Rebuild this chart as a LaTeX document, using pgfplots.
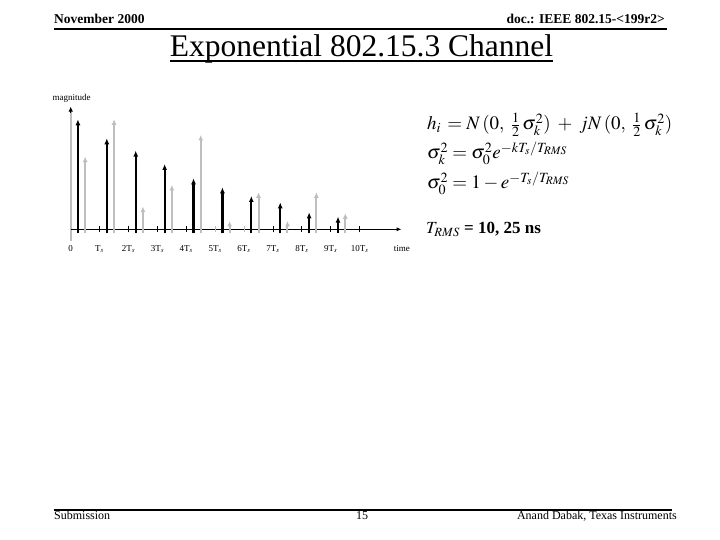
\documentclass[border=0pt]{standalone}
\usepackage{amsmath}
\usepackage{mathptmx}
\usepackage{pgfplots}
\pgfplotsset{compat=1.18}
\usepackage{pgfplotstable}
\usepackage{fontspec}
\setmainfont{Liberation Serif}
\usetikzlibrary{arrows.meta}
\definecolor{lgray}{RGB}{190,190,190}

\pgfplotstableread{
x h
0.25 110
1.25 91
2.25 78.7
3.25 65.3
4.25 51
5.25 42
6.25 33.3
7.25 27
8.25 17
9.25 12.7
}\blackstems

\pgfplotstableread{
x h
0.5 72.7
1.5 110
2.5 22.7
3.5 44.3
4.5 94.3
5.5 8.3
6.5 37
7.5 8.3
8.5 37
9.5 16
}\graystems

\begin{document}
\begin{tikzpicture}[x=1pt,y=1pt]
\path[use as bounding box, fill=white] (0,0) rectangle (720,540);
% header
\node[anchor=base west, inner sep=0, font=\fontsize{13.5}{15}\selectfont\bfseries] at (54,540-23.5) {November 2000};
\node[anchor=base east, inner sep=0, font=\fontsize{13.5}{15}\selectfont\bfseries] at (665,540-24) {doc.: IEEE 802.15-<199r2>};
\draw[line width=1.8pt] (54,540-29) -- (667,540-29);
\node[anchor=base, inner sep=0, font=\fontsize{31.5}{34}\selectfont] at (361.5,540-56.5) {Exponential 802.15.3 Channel};
\draw[line width=1.5pt] (170,540-61) -- (553,540-61);
% footer
\draw[line width=1.8pt] (54,540-510) -- (672,540-510);
\node[anchor=base west, inner sep=0, font=\fontsize{12}{14}\selectfont] at (54,540-520) {Submission};
\node[anchor=base, inner sep=0, font=\fontsize{12}{14}\selectfont] at (362,540-520) {15};
\node[anchor=base east, inner sep=0, font=\fontsize{12}{14}\selectfont] at (677,540-520) {Anand Dabak, Texas Instruments};
% equations
\node[anchor=base west, inner sep=0, font=\fontsize{19}{22}\selectfont] at (427,540-130) {$h_i\, = N\,(0,\;\tfrac{1}{2}\,\sigma_k^2) \;+\; jN\,(0,\;\tfrac{1}{2}\,\sigma_k^2)$};
\node[anchor=base west, inner sep=0, font=\fontsize{19}{22}\selectfont] at (427,540-159) {$\sigma_k^2 = \sigma_0^2 e^{-kT_s/T_{RMS}}$};
\node[anchor=base west, inner sep=0, font=\fontsize{19}{22}\selectfont] at (427,540-189) {$\sigma_0^2 = 1 - e^{-T_s/T_{RMS}}$};
\node[anchor=base west, inner sep=0, font=\fontsize{17}{20}\selectfont] at (426,540-234) {$T_{RMS}$ \textbf{= 10, 25 ns}};

\begin{axis}[
  x=28.9pt, y=1pt,
  hide axis, clip=false,
  xmin=-0.5, xmax=12, ymin=-15, ymax=130,
  anchor=origin, at={(70.7pt,310.7pt)},
]
% y axis (gray line with black tip)
\draw[lgray, line width=1.8pt] (axis cs:0,-12) -- (axis cs:0,118);
\draw[black, line width=0.8pt, -{Latex[length=5pt,width=4.5pt]}] (axis cs:0,116) -- (axis cs:0,122.7);
% x axis
\draw[black, line width=0.9pt, -{Latex[length=5pt,width=4pt]}] (axis cs:0,0) -- (axis cs:11.45,0);
\pgfplotsinvokeforeach{1,2,3,4,7,8,9,10}{\draw[black, line width=0.9pt] (axis cs:#1,-3) -- (axis cs:#1,3);}
\pgfplotsinvokeforeach{5,6}{\draw[lgray, line width=0.9pt] (axis cs:#1,-3) -- (axis cs:#1,3);}
% stems
\addplot[lgray, line width=2pt, -{Latex[length=5.5pt,width=5pt]}, quiver={u=0,v=\thisrow{h}+4}] table[x=x, y expr=-4] {\graystems};
\addplot[black, line width=2.2pt, -{Latex[length=6pt,width=5pt]}, quiver={u=0,v=\thisrow{h}+4}] table[x=x, y expr=-4] {\blackstems};
% labels
\node[anchor=base, inner sep=0, font=\fontsize{9}{10}\selectfont] at (axis cs:0,-22) {0};
\node[anchor=base, inner sep=0, font=\fontsize{9}{10}\selectfont] at (axis cs:1,-22) {T$_s$};
\pgfplotsinvokeforeach{2,...,10}{\node[anchor=base, inner sep=0, font=\fontsize{9}{10}\selectfont] at (axis cs:#1,-22) {#1T$_s$};}
\node[anchor=base, inner sep=0, font=\fontsize{9}{10}\selectfont] at (axis cs:11.46,-22) {time};
\node[anchor=base, inner sep=0, font=\fontsize{9}{10}\selectfont] at (axis cs:0.03,128.5) {magnitude};
\end{axis}
\end{tikzpicture}
\end{document}
